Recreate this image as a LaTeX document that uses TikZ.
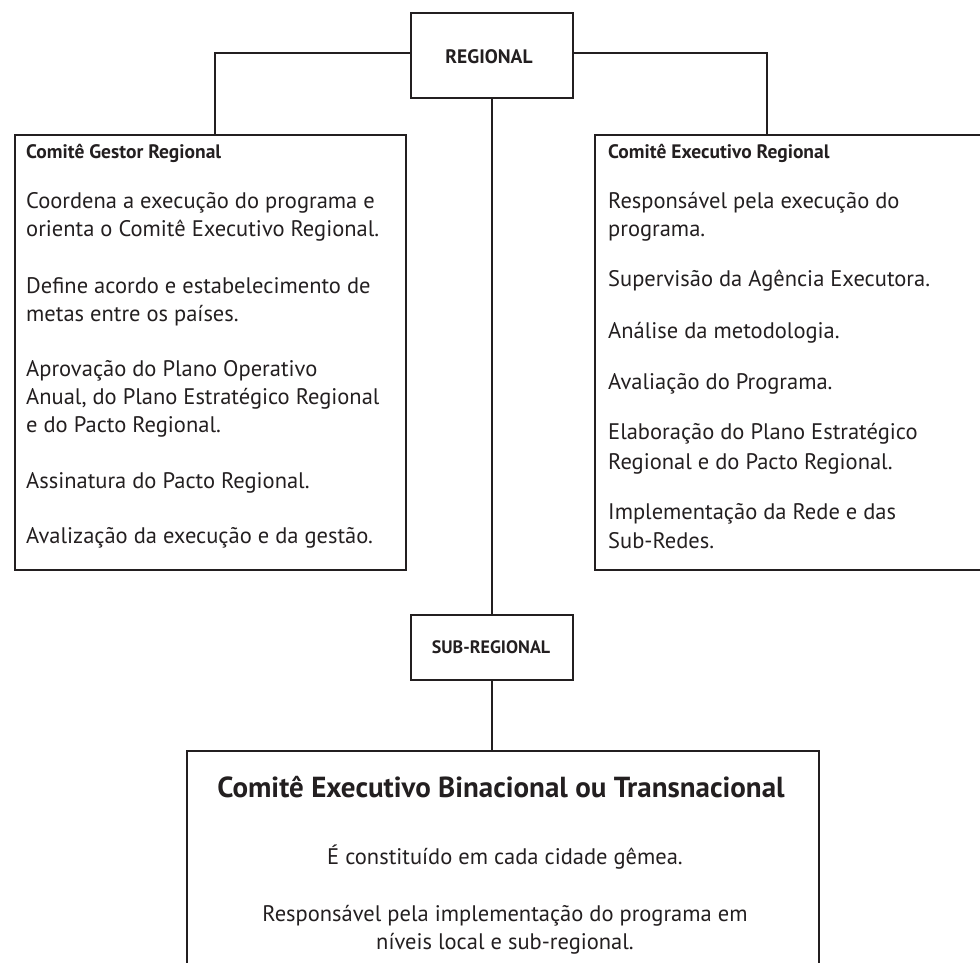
\documentclass[tikz,border=0pt]{standalone}
\usepackage{fontspec}
\setmainfont{PT Sans}
\definecolor{ink}{HTML}{231F20}
\tikzset{
  boxed/.style={draw=ink, line width=2.3pt, rectangle, inner sep=0pt},
  conn/.style={draw=ink, line width=1.7pt},
  body/.style={text=ink, inner sep=0pt, font=\fontsize{22.5}{26}\selectfont},
  btitle/.style={text=ink, inner sep=0pt, font=\bfseries\fontsize{19.5}{22}\selectfont},
  lvl/.style={text=ink, inner sep=0pt, font=\bfseries\fontsize{19.5}{22}\selectfont},
  bigtitle/.style={text=ink, inner sep=0pt, font=\bfseries\fontsize{29}{32}\selectfont},
}
\begin{document}
\begin{tikzpicture}[x=1pt,y=-1pt]
\useasboundingbox (0,0) rectangle (980,962);
\clip (0,0) rectangle (980,962);
% boxes
\node[boxed, minimum width=162pt, minimum height=85pt] (reg) at (492,55.5) {};
\node[boxed, minimum width=391pt, minimum height=435pt] (cgr) at (210.5,352.5) {};
\node[boxed, minimum width=420pt, minimum height=435pt] (cer) at (805,352.5) {};
\node[boxed, minimum width=162pt, minimum height=65pt] (sub) at (492,647.5) {};
\node[boxed, minimum width=632pt, minimum height=300pt] (ceb) at (503,901) {};
% connectors
\draw[conn] ([yshift=2.5pt]reg.west) -| ([xshift=4.5pt]cgr.north);
\draw[conn] ([yshift=2.5pt]reg.east) -| ([xshift=-38pt]cer.north);
\draw[conn] (reg.south) -- (sub.north);
\draw[conn] (sub.south) -- (sub.south |- ceb.north);
% level labels
\node[lvl, anchor=base] (tReg) at (489,63) {REGIONAL};
\node[lvl, anchor=base, font=\bfseries\fontsize{18}{21}\selectfont] (tSub) at (491,653) {SUB-REGIONAL};
% left box
\node[btitle, anchor=base west] (lt) at (26,158) {Comitê Gestor Regional};
\node[body, anchor=base west] (l1) at (26,208) {Coordena a execução do programa e};
\node[body, anchor=base west] (l2) at (26,236) {orienta o Comitê Executivo Regional.};
\node[body, anchor=base west] (l3) at (26,293) {Define acordo e estabelecimento de};
\node[body, anchor=base west] (l4) at (26,321) {metas entre os países.};
\node[body, anchor=base west] (l5) at (26,376) {Aprovação do Plano Operativo};
\node[body, anchor=base west] (l6) at (26,404) {Anual, do Plano Estratégico Regional};
\node[body, anchor=base west] (l7) at (26,432) {e do Pacto Regional.};
\node[body, anchor=base west] (l8) at (26,488) {Assinatura do Pacto Regional.};
\node[body, anchor=base west] (l9) at (26,543) {Avalização da execução e da gestão.};
% right box
\node[btitle, anchor=base west] (rt) at (608,158) {Comitê Executivo Regional};
\node[body, anchor=base west] (r1) at (608,208) {Responsável pela execução do};
\node[body, anchor=base west] (r2) at (608,236) {programa.};
\node[body, anchor=base west] (r3) at (608,286) {Supervisão da Agência Executora.};
\node[body, anchor=base west] (r4) at (608,338) {Análise da metodologia.};
\node[body, anchor=base west] (r5) at (608,389) {Avaliação do Programa.};
\node[body, anchor=base west] (r6) at (608,439) {Elaboração do Plano Estratégico};
\node[body, anchor=base west] (r7) at (608,469) {Regional e do Pacto Regional.};
\node[body, anchor=base west] (r8) at (608,519) {Implementação da Rede e das};
\node[body, anchor=base west] (r9) at (608,548) {Sub-Redes.};
% bottom box
\node[bigtitle, anchor=base] (bt) at (501,797) {Comitê Executivo Binacional ou Transnacional};
\node[body, anchor=base] (b1) at (505,864) {É constituído em cada cidade gêmea.};
\node[body, anchor=base] (b2) at (505,921) {Responsável pela implementação do programa em};
\node[body, anchor=base] (b3) at (505,949) {níveis local e sub-regional.};
\end{tikzpicture}
\end{document}
